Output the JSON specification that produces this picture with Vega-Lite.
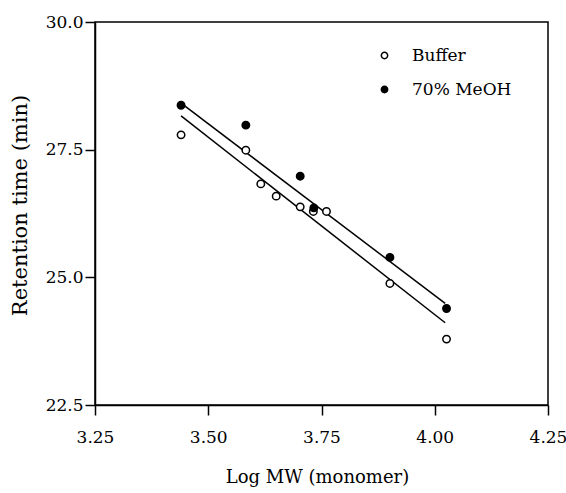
{
  "$schema": "https://vega.github.io/schema/vega-lite/v6.json",
  "width": 453,
  "height": 383,
  "autosize": {"type": "none"},
  "padding": {"left": 95, "top": 22, "right": 18, "bottom": 88},
  "background": "white",
  "config": {
    "font": "DejaVu Serif",
    "view": {"stroke": "black", "strokeWidth": 1.5},
    "axis": {
      "domainColor": "black",
      "domainWidth": 1.5,
      "tickColor": "black",
      "tickWidth": 1.5,
      "tickSize": 10,
      "grid": false,
      "labelColor": "black",
      "labelFont": "DejaVu Serif",
      "labelFontSize": 17,
      "labelOverlap": false,
      "labelFlush": false,
      "titleColor": "black",
      "titleFont": "DejaVu Serif",
      "titleFontWeight": "normal"
    }
  },
  "datasets": {
    "points": [
      {"series": "Buffer", "logMW": 3.440, "rt": 27.79},
      {"series": "Buffer", "logMW": 3.583, "rt": 27.49},
      {"series": "Buffer", "logMW": 3.616, "rt": 26.83},
      {"series": "Buffer", "logMW": 3.650, "rt": 26.59},
      {"series": "Buffer", "logMW": 3.703, "rt": 26.38},
      {"series": "Buffer", "logMW": 3.732, "rt": 26.29},
      {"series": "Buffer", "logMW": 3.761, "rt": 26.29},
      {"series": "Buffer", "logMW": 3.901, "rt": 24.88},
      {"series": "Buffer", "logMW": 4.026, "rt": 23.79},
      {"series": "70% MeOH", "logMW": 3.440, "rt": 28.37},
      {"series": "70% MeOH", "logMW": 3.583, "rt": 27.98},
      {"series": "70% MeOH", "logMW": 3.703, "rt": 26.98},
      {"series": "70% MeOH", "logMW": 3.733, "rt": 26.36},
      {"series": "70% MeOH", "logMW": 3.901, "rt": 25.39},
      {"series": "70% MeOH", "logMW": 4.026, "rt": 24.39}
    ],
    "fits": [
      {"series": "70% MeOH", "logMW": 3.440, "rt": 28.41},
      {"series": "70% MeOH", "logMW": 4.023, "rt": 24.49},
      {"series": "Buffer", "logMW": 3.440, "rt": 28.16},
      {"series": "Buffer", "logMW": 4.023, "rt": 24.11}
    ]
  },
  "encoding": {
    "x": {
      "field": "logMW",
      "type": "quantitative",
      "scale": {"domain": [3.25, 4.25], "nice": false, "zero": false},
      "axis": {
        "title": "Log MW (monomer)",
        "values": [3.25, 3.5, 3.75, 4.0, 4.25],
        "format": ".2f",
        "labelPadding": 14,
        "titleFontSize": 18,
        "titleX": 222,
        "titleY": 77,
        "titleBaseline": "alphabetic"
      }
    },
    "y": {
      "field": "rt",
      "type": "quantitative",
      "scale": {"domain": [22.5, 30], "nice": false, "zero": false},
      "axis": {
        "title": "Retention time (min)",
        "values": [22.5, 25, 27.5, 30],
        "format": ".1f",
        "labelPadding": 2,
        "titleFontSize": 21,
        "titleAngle": 270,
        "titleX": -75,
        "titleY": 183,
        "titleAlign": "center",
        "titleBaseline": "middle"
      }
    }
  },
  "layer": [
    {
      "data": {"name": "fits"},
      "mark": {"type": "line", "color": "black", "strokeWidth": 1.5},
      "encoding": {"detail": {"field": "series"}}
    },
    {
      "data": {"name": "points"},
      "mark": {"type": "point", "shape": "circle", "filled": true, "stroke": "black", "strokeWidth": 1.5, "size": 55, "opacity": 1},
      "encoding": {
        "fill": {
          "field": "series",
          "type": "nominal",
          "scale": {"domain": ["Buffer", "70% MeOH"], "range": ["white", "black"]},
          "legend": {
            "title": null,
            "orient": "none",
            "legendX": 281,
            "legendY": 25,
            "direction": "vertical",
            "padding": 0,
            "rowPadding": 16,
            "labelFont": "DejaVu Serif",
            "labelFontSize": 17,
            "labelColor": "black",
            "labelOffset": 19,
            "symbolType": "circle",
            "symbolSize": 40,
            "symbolStrokeColor": "black",
            "symbolStrokeWidth": 1.5,
            "symbolOpacity": 1
          }
        }
      }
    }
  ]
}
